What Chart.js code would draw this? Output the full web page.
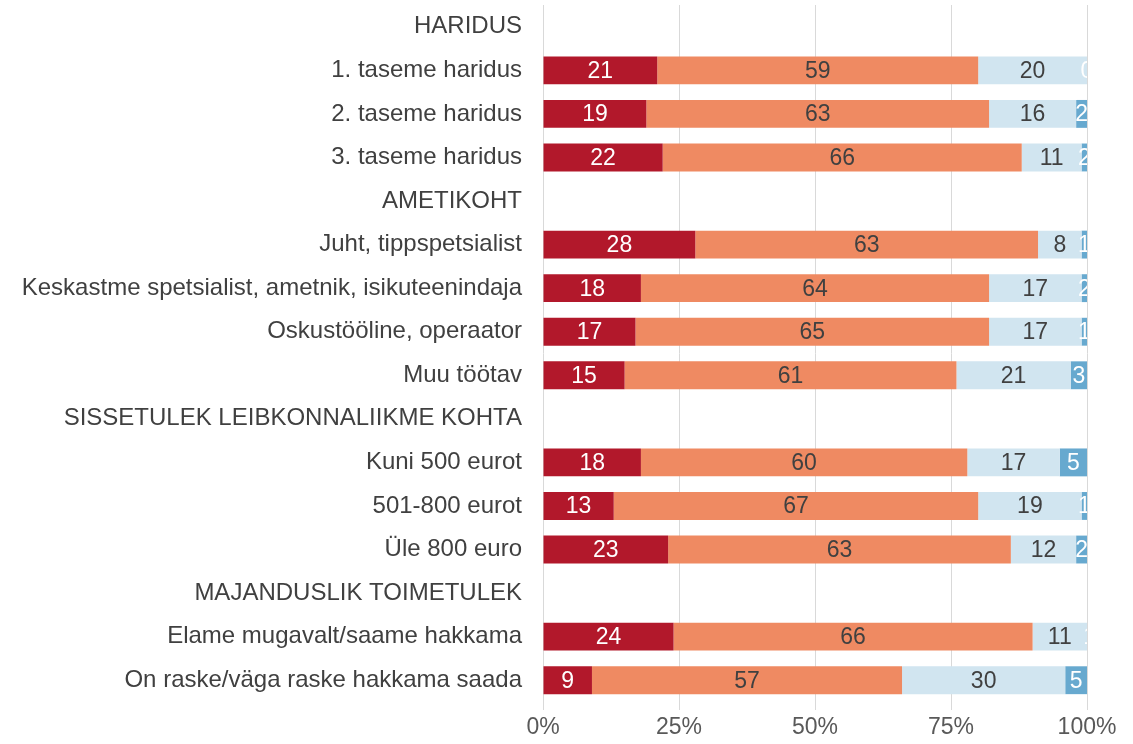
<!DOCTYPE html>
<html>
<head>
<meta charset="utf-8">
<script src="https://cdn.jsdelivr.net/npm/chart.js@4/dist/chart.umd.min.js"></script>
<style>
  html, body { margin: 0; padding: 0; background: #fff; }
  #wrap { width: 1133px; height: 744px; }
</style>
</head>
<body>
<div id="wrap"><canvas id="c"></canvas></div>
<script>
// categories (header rows have no data)
const categories = [
    'HARIDUS',
    '1. taseme haridus',
    '2. taseme haridus',
    '3. taseme haridus',
    'AMETIKOHT',
    'Juht, tippspetsialist',
    'Keskastme spetsialist, ametnik, isikuteenindaja',
    'Oskustööline, operaator',
    'Muu töötav',
    'SISSETULEK LEIBKONNALIIKME KOHTA',
    'Kuni 500 eurot',
    '501-800 eurot',
    'Üle 800 euro',
    'MAJANDUSLIK TOIMETULEK',
    'Elame mugavalt/saame hakkama',
    'On raske/väga raske hakkama saada'
];

const series1 = [null, 21, 19, 22, null, 28, 18, 17, 15, null, 18, 13, 23, null, 24, 9];
const series2 = [null, 59, 63, 66, null, 63, 64, 65, 61, null, 60, 67, 63, null, 66, 57];
const series3 = [null, 20, 16, 11, null, 8, 17, 17, 21, null, 17, 19, 12, null, 11, 30];
const series4 = [null, 0, 2, 2, null, 1, 2, 1, 3, null, 5, 1, 2, null, 1, 5];

const xTicks = [0, 25, 50, 75, 100];

const colors = ['#b2182b', '#ef8a62', '#d1e5f0', '#67a9cf'];
const labelColors = ['#ffffff', '#404040', '#404040', '#ffffff'];
const fontFamily = '"Liberation Sans", Arial, sans-serif';

// draws the value in the middle of each (visible part of a) bar
const barLabels = {
    id: 'barLabels',
    afterDatasetsDraw(chart) {
        const { ctx, chartArea } = chart;
        ctx.save();
        ctx.beginPath();
        ctx.rect(chartArea.left, chartArea.top, chartArea.right - chartArea.left, chartArea.bottom - chartArea.top);
        ctx.clip();
        ctx.font = '23px ' + fontFamily;
        ctx.textAlign = 'center';
        ctx.textBaseline = 'middle';
        chart.data.datasets.forEach((ds, i) => {
            const meta = chart.getDatasetMeta(i);
            meta.data.forEach((bar, j) => {
                const v = ds.data[j];
                if (v === null) return;
                const x0 = Math.max(Math.min(bar.base, bar.x), chartArea.left);
                const x1 = Math.min(Math.max(bar.base, bar.x), chartArea.right);
                ctx.fillStyle = labelColors[i];
                ctx.fillText(String(v), (x0 + x1) / 2, bar.y + 1);
            });
        });
        ctx.restore();
    }
};

new Chart(document.getElementById('c'), {
    type: 'bar',
    data: {
        labels: categories,
        datasets: [series1, series2, series3, series4].map((d, i) => ({
            label: 'Seeria ' + (i + 1),
            data: d,
            backgroundColor: colors[i],
            borderWidth: 0,
            categoryPercentage: 1,
            barPercentage: 0.64
        }))
    },
    options: {
        indexAxis: 'y',
        responsive: true,
        maintainAspectRatio: false,
        animation: false,
        layout: { padding: { top: 5, right: 46, left: 0, bottom: 0 } },
        plugins: {
            legend: { display: false },
            tooltip: { enabled: false }
        },
        scales: {
            x: {
                stacked: true,
                min: 0,
                max: 100,
                afterBuildTicks: (s) => { s.ticks = xTicks.map(v => ({ value: v })); },
                grid: { color: '#d9d9d9', drawTicks: true, tickLength: 8, tickColor: '#d9d9d9' },
                border: { display: false },
                ticks: {
                    color: '#595959',
                    padding: 4,
                    maxRotation: 0,
                    font: { family: fontFamily, size: 23 },
                    callback: (v) => v + '%'
                },
                afterFit: (s) => { s.height = 42; s.paddingLeft = 0; s.paddingRight = 0; }
            },
            y: {
                stacked: true,
                grid: { display: false, drawTicks: false },
                border: { display: false },
                ticks: {
                    color: '#404040',
                    padding: 21,
                    autoSkip: false,
                    font: { family: fontFamily, size: 24 }
                },
                afterFit: (s) => { s.width = 543; s.paddingTop = 0; s.paddingBottom = 0; }
            }
        }
    },
    plugins: [barLabels]
});
</script>
</body>
</html>
